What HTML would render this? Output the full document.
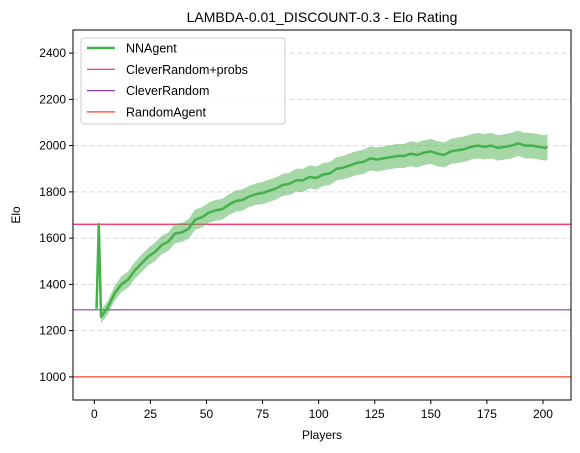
<!DOCTYPE html>
<html><head><meta charset="utf-8"><style>
body{margin:0;background:#fff;}
svg{display:block;font-family:"Liberation Sans","DejaVu Sans",sans-serif;}
</style></head><body>
<svg id="chart" width="580" height="453"></svg>
<script>
const players=[1,2,3,6,9,12,15,18,21,24,27,30,33,36,39,42,45,48,51,54,57,60,63,66,69,72,75,78,81,84,87,90,93,96,99,102,105,108,111,114,117,120,123,126,129,132,135,138,141,144,147,150,153,156,159,162,165,168,171,174,177,180,183,186,189,192,195,198,201,202];
const eloMean=[1295,1660,1260,1300,1360,1400,1420,1460,1490,1520,1540,1570,1585,1620,1625,1640,1680,1690,1710,1720,1725,1745,1760,1765,1780,1790,1795,1805,1815,1830,1835,1850,1850,1865,1860,1875,1880,1900,1905,1915,1925,1930,1945,1940,1945,1950,1955,1955,1965,1960,1970,1975,1965,1960,1975,1980,1985,1995,2000,1995,2000,1990,1995,2000,2010,2000,2000,1995,1990,1995];
const eloBand=[0,0,28,30,32,34,35,36,38,38,40,40,40,42,42,42,44,44,44,45,45,45,46,46,46,46,48,48,48,48,48,50,50,50,50,50,50,50,50,52,52,52,52,52,52,52,52,52,54,54,54,54,54,54,54,55,55,55,55,55,55,55,55,55,55,55,55,55,55,55];
const baselineNames=["CleverRandom+probs","CleverRandom","RandomAgent"];
const baselineValues=[1660,1290,1000];
const baselineColors=["#ff1f5b","#8e3ca8","#f1462a"];
const yTicks=[1000,1200,1400,1600,1800,2000,2200,2400];
const xTicks=[0,25,50,75,100,125,150,175,200];

const NS="http://www.w3.org/2000/svg";
const svg=document.getElementById('chart');
const L=73,R=571,T=30,B=400;
const xMin=-9.5,xMax=212.5,yMin=900,yMax=2500;
const X=v=>L+(v-xMin)/(xMax-xMin)*(R-L);
const Y=v=>B-(v-yMin)/(yMax-yMin)*(B-T);
function mk(tag,attrs,parent){const e=document.createElementNS(NS,tag);for(const k in attrs)e.setAttribute(k,attrs[k]);(parent||svg).appendChild(e);return e;}

// grid
yTicks.forEach(t=>{
  const g=mk('line',{x1:L,x2:R,y1:Y(t),y2:Y(t),stroke:'#d9d9d9','stroke-dasharray':'5,3','stroke-width':1});
  
  
});
// baselines
baselineValues.forEach((v,i)=>{
  const l=mk('line',{x1:L,x2:R,y1:Y(v),y2:Y(v),stroke:baselineColors[i],'stroke-width':1.2});
  
  
});
// band
let up=players.map((p,i)=>X(p)+','+Y(eloMean[i]+eloBand[i]));
let lo=players.map((p,i)=>X(p)+','+Y(eloMean[i]-eloBand[i])).reverse();
const band=mk('polygon',{points:up.concat(lo).join(' '),fill:'#4caf50','fill-opacity':0.5});


const line=mk('polyline',{points:players.map((p,i)=>X(p)+','+Y(eloMean[i])).join(' '),fill:'none',stroke:'#44b14a','stroke-width':2.5,'stroke-linejoin':'round'});


// axes frame
const fr=mk('rect',{x:L,y:T,width:R-L,height:B-T,fill:'none',stroke:'#000','stroke-width':1});


yTicks.forEach(t=>{
  mk('line',{x1:L-4,x2:L,y1:Y(t),y2:Y(t),stroke:'#000'});
  const tx=mk('text',{x:L-7,y:Y(t)+4,'text-anchor':'end','font-size':12});
  tx.textContent=t;
  
  
});
xTicks.forEach(t=>{
  mk('line',{x1:X(t),x2:X(t),y1:B,y2:B+4,stroke:'#000'});
  const tx=mk('text',{x:X(t),y:B+18,'text-anchor':'middle','font-size':12});
  tx.textContent=t;
  
  
});
const tt=mk('text',{x:(L+R)/2,y:22,'text-anchor':'middle','font-size':14});
tt.textContent='LAMBDA-0.01_DISCOUNT-0.3 - Elo Rating';


const xl=mk('text',{x:(L+R)/2,y:439,'text-anchor':'middle','font-size':12});
xl.textContent='Players';


const yl=mk('text',{x:20,y:(T+B)/2,'text-anchor':'middle','font-size':12,transform:'rotate(-90 20 '+((T+B)/2)+')'});
yl.textContent='Elo';


// legend
const lg=mk('g',{});


mk('rect',{x:81,y:38,width:204,height:86,rx:3,fill:'#fff','fill-opacity':0.8,stroke:'#ccc'},lg);
const names=['NNAgent'].concat(baselineNames);
const cols=['#44b14a'].concat(baselineColors);
names.forEach((n,i)=>{
  const yy=48+i*21.3;
  mk('line',{x1:87,x2:115,y1:yy,y2:yy,stroke:cols[i],'stroke-width':i==0?2.5:1.2},lg);
  const t=mk('text',{x:126,y:yy+4.5,'font-size':12.5},lg);
  t.textContent=n;
  
  
});
</script>
</body></html>
